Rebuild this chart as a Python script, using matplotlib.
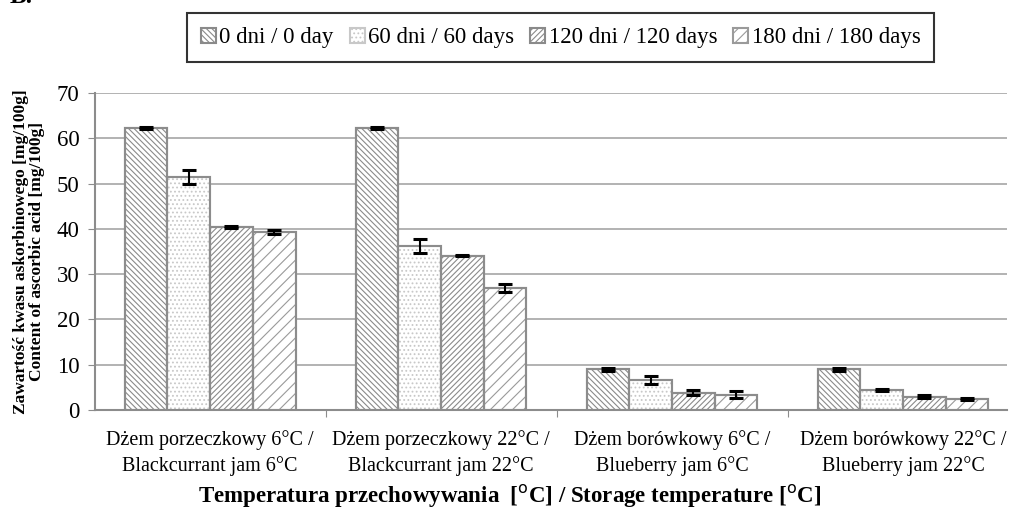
import matplotlib
matplotlib.use("Agg")
from matplotlib import pyplot as plt
import numpy as np

categories = ["Dżem porzeczkowy 6°C /\nBlackcurrant jam 6°C",
              "Dżem porzeczkowy 22°C /\nBlackcurrant jam 22°C",
              "Dżem borówkowy 6°C /\nBlueberry jam 6°C",
              "Dżem borówkowy 22°C /\nBlueberry jam 22°C"]
series = ["0 dni / 0 day", "60 dni / 60 days", "120 dni / 120 days", "180 dni / 180 days"]
day0 = [62.3, 62.3, 8.9, 8.9]
day60 = [51.5, 36.2, 6.6, 4.3]
day120 = [40.4, 34.1, 3.8, 2.9]
day180 = [39.3, 27.0, 3.3, 2.4]
err0 = [0.2, 0.2, 0.3, 0.3]
err60 = [1.5, 1.5, 0.9, 0.2]
err120 = [0.3, 0.2, 0.5, 0.4]
err180 = [0.5, 0.9, 0.8, 0.3]

values = [day0, day60, day120, day180]
errors = [err0, err60, err120, err180]
hatches = ["\\\\\\\\\\\\", "....", "//////", "///"]
hatch_cols = ["#8a8a8a", "#c8c8c8", "#8a8a8a", "#9a9a9a"]

plt.rcParams["font.family"] = ["Liberation Serif", "DejaVu Serif"]
plt.rcParams["hatch.linewidth"] = 0.8

fig = plt.figure(figsize=(10.1, 5.09), dpi=100)
ax = fig.add_axes([0.0936, 0.195, 0.9034, 0.622])

x = np.arange(len(categories))
w = 0.185
for i in range(4):
    pos = x + (i - 1.5) * w
    ax.bar(pos, values[i], width=w, color="white", edgecolor=hatch_cols[i],
           hatch=hatches[i], linewidth=1.5, label=series[i], zorder=3)
    ax.bar(pos, values[i], width=w, color="none", edgecolor="#8c8c8c",
           linewidth=1.5, zorder=4)
    ax.errorbar(pos, values[i], yerr=errors[i], fmt="none", ecolor="black",
                elinewidth=1.5, capsize=5, capthick=2.2, zorder=5)

ax.set_xlim(-0.5, 3.45)
ax.set_ylim(0, 70)
ax.set_yticks(range(0, 71, 10))
ax.grid(axis="y", color="#a6a6a6", linewidth=1.2, zorder=0)
ax.set_xticks(np.arange(0.5, 3.0, 1.0))
ax.set_xticklabels([])
ax.set_xticks(x, minor=True)
ax.set_xticklabels(categories, minor=True, fontsize=14.5, linespacing=1.35)
ax.tick_params(axis="x", which="minor", length=0, pad=15)
ax.tick_params(axis="x", which="major", length=5, color="#8c8c8c")
ax.tick_params(axis="y", labelsize=16.5, length=5, color="#8c8c8c", pad=6)
for s in ["top", "right"]:
    ax.spines[s].set_visible(False)
for s in ["left", "bottom"]:
    ax.spines[s].set_color("#8c8c8c")
    ax.spines[s].set_linewidth(1.5)

ax.set_ylabel("Zawartość kwasu askorbinowego [mg/100g]\nContent of ascorbic acid [mg/100g]",
              fontsize=12.5, fontweight="bold", labelpad=8, linespacing=1.05)
fig.text(0.505, 0.024,
         r"Temperatura przechowywania  [$^{\mathrm{o}}$C] / Storage temperature [$^{\mathrm{o}}$C]",
         fontsize=16.5, fontweight="bold", ha="center", va="center")

leg = ax.legend(loc="center", bbox_to_anchor=(0.511, 1.175), ncol=4, fontsize=16.5,
                frameon=True, fancybox=False, edgecolor="black",
                handlelength=0.65, handleheight=0.65, handletextpad=0.15,
                columnspacing=0.7, borderpad=0.6)
leg.get_frame().set_linewidth(1.5)

fig.text(0.01, 1 - 3 / 509, "B.", fontsize=18, fontweight="bold", va="baseline")

fig.savefig("out.png", dpi=100)
